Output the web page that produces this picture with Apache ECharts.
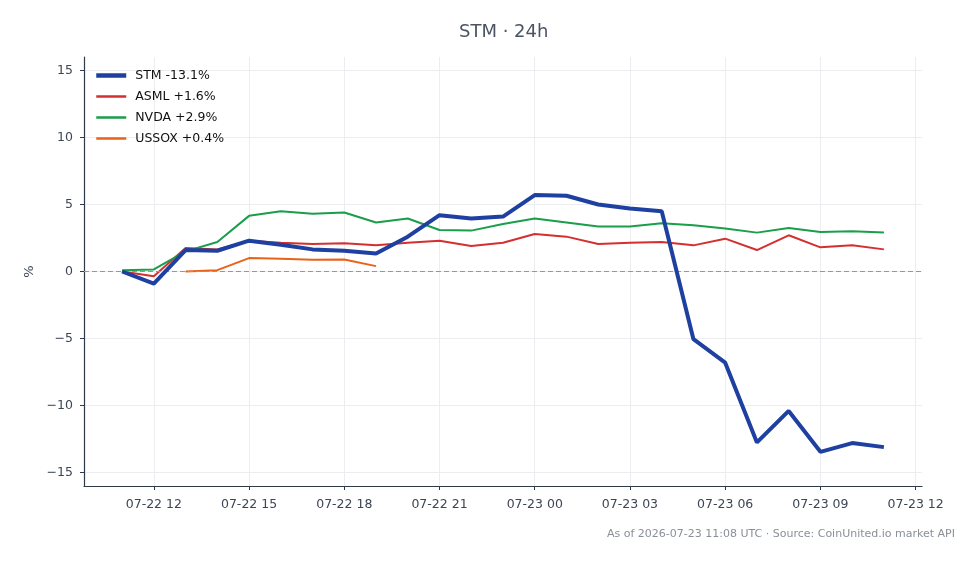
<!DOCTYPE html>
<html>
<head>
<meta charset="utf-8">
<script src="https://cdn.jsdelivr.net/npm/echarts@6/dist/echarts.min.js"></script>
<style>
  html, body { margin: 0; padding: 0; background: #fff; }
  #chart { width: 979px; height: 564px; }
</style>
</head>
<body>
<div id="chart"></div>
<script>
// hours since 07-22 00:00 UTC, one point per hour
const hours = [11,12,13,14,15,16,17,18,19,20,21,22,23,24,25,26,27,28,29,30,31,32,33,34,35];
const stm   = [0.0,-0.9,1.6,1.55,2.3,2.0,1.65,1.55,1.35,2.6,4.2,3.95,4.1,5.7,5.65,5.0,4.7,4.5,-5.05,-6.8,-12.75,-10.4,-13.45,-12.8,-13.1];
const asml  = [0.0,-0.35,1.75,1.65,2.3,2.15,2.05,2.1,1.95,2.15,2.3,1.9,2.15,2.8,2.6,2.05,2.15,2.2,1.95,2.45,1.6,2.7,1.8,1.95,1.65];
const nvda  = [0.1,0.15,1.5,2.2,4.15,4.5,4.3,4.4,3.65,3.95,3.1,3.05,3.55,3.95,3.65,3.35,3.35,3.6,3.45,3.2,2.9,3.25,2.95,3.0,2.9];
const ussox = [null,null,0.0,0.1,1.0,0.95,0.87,0.9,0.4,null,null,null,null,null,null,null,null,null,null,null,null,null,null,null,null];
const xTicks = [12,15,18,21,24,27,30,33,36];
const yTicks = [-15,-10,-5,0,5,10,15];

const names = ['STM -13.1%','ASML +1.6%','NVDA +2.9%','USSOX +0.4%'];
const colors = ['#1e40a0','#d3302f','#1a9e4a','#e8621a'];
const widths = [4, 2, 2, 2];

const pairs = arr => hours.map((h, i) => [h, arr[i]]);
const xLabel = h => (h < 24 ? '07-22 ' : '07-23 ') + String(h % 24).padStart(2, '0');

const chart = echarts.init(document.getElementById('chart'));
const font = 'DejaVu Sans';
const axisColor = '#2f3a48';

const lineSeries = (i, arr) => ({
    name: names[i],
    type: 'line',
    data: pairs(arr),
    symbol: 'none',
    connectNulls: false,
    lineStyle: { color: colors[i], width: widths[i] },
    itemStyle: { color: colors[i] },
    z: i === 0 ? 5 : 3
});

const series = [
    lineSeries(0, stm),
    lineSeries(1, asml),
    lineSeries(2, nvda),
    lineSeries(3, ussox)
];
series[1].markLine = {
    silent: true,
    symbol: 'none',
    label: { show: false },
    lineStyle: { color: '#8a99ad', type: [5, 3], width: 1 },
    data: [{ yAxis: 0 }]
};

chart.setOption({
    animation: false,
    textStyle: { fontFamily: font },
    grid: { left: 84, right: 57, top: 57, bottom: 78 },
    legend: {
        orient: 'vertical',
        left: 89,
        top: 64,
        itemWidth: 30,
        itemHeight: 14,
        itemGap: 8,
        data: names.map((n, i) => ({
            name: n,
            itemStyle: { opacity: 0 },
            lineStyle: { color: colors[i], width: widths[i] + 0.5 }
        })),
        textStyle: { fontSize: 12.5, color: '#111', padding: [0, 0, 0, 4] }
    },
    xAxis: {
        type: 'value',
        min: 9.8,
        max: 36.2,
        axisLine: { onZero: false, lineStyle: { color: axisColor, width: 1.2 } },
        axisTick: { show: true, length: 4, customValues: xTicks, lineStyle: { color: axisColor } },
        axisLabel: { customValues: xTicks, formatter: xLabel, color: '#3d4654', fontSize: 12.5, margin: 12 },
        splitLine: { show: true, lineStyle: { color: '#ebedf0', width: 1 } }
    },
    yAxis: {
        type: 'value',
        min: -16,
        max: 16,
        name: '%',
        nameLocation: 'middle',
        nameGap: 47,
        nameRotate: 90,
        nameTextStyle: { color: '#3d4654', fontSize: 13 },
        axisLine: { show: true, onZero: false, lineStyle: { color: axisColor, width: 1.2 } },
        axisTick: { show: true, length: 4, customValues: yTicks, lineStyle: { color: axisColor } },
        axisLabel: {
            customValues: yTicks,
            formatter: v => String(v).replace('-', '\u2212'),
            color: '#3d4654',
            fontSize: 12.5,
            margin: 11
        },
        splitLine: { show: true, lineStyle: { color: '#ebedf0', width: 1 } }
    },
    graphic: [
        {
            type: 'text',
            left: 459,
            top: 23,
            style: { text: 'STM · 24h', font: '18px "DejaVu Sans"', fill: '#4a5463' }
        },
        {
            type: 'text',
            right: 24,
            top: 529,
            style: {
                text: 'As of 2026-07-23 11:08 UTC · Source: CoinUnited.io market API',
                font: '11px "DejaVu Sans"',
                fill: '#8a8f98'
            }
        }
    ],
    series: series
});
</script>
</body>
</html>
